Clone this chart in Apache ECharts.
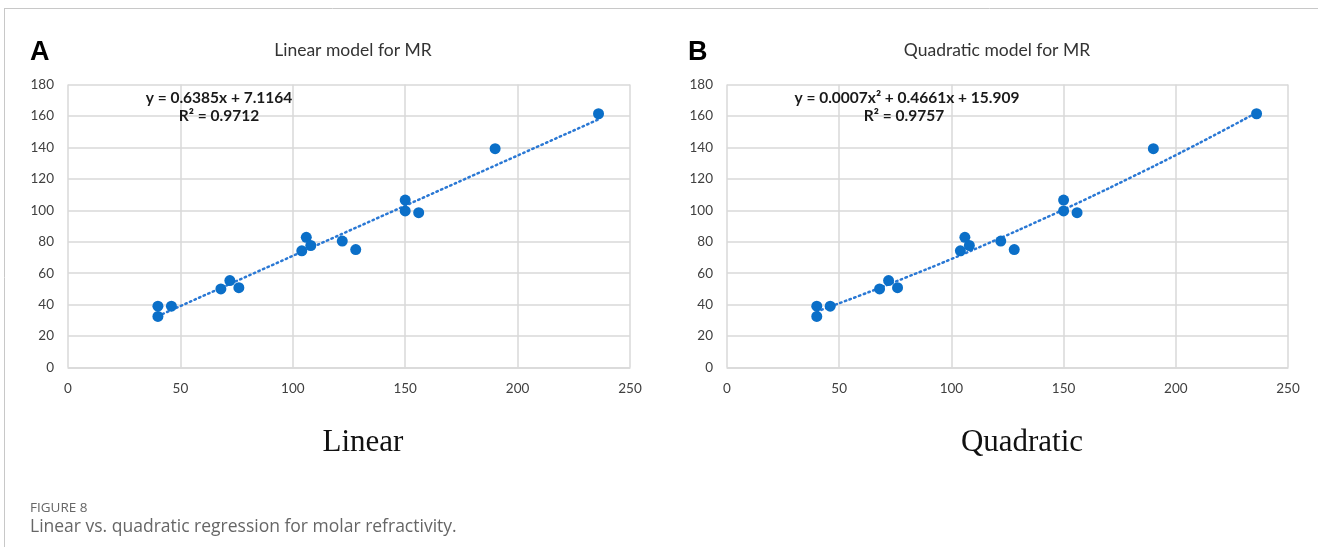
<!DOCTYPE html>
<html>
<head>
<meta charset="utf-8">
<script src="https://cdn.jsdelivr.net/npm/echarts@6/dist/echarts.min.js"></script>
<style>
html,body{margin:0;padding:0;background:#fff;}
#c{width:1318px;height:547px;}
</style>
</head>
<body>
<div id="c"></div>
<script>
// Data (x, MR)
const xValues = [40, 40, 46, 68, 72, 76, 104, 106, 108, 122, 128, 150, 150, 156, 190, 236];
const yValues = [39, 32.5, 39, 50, 55.3, 50.8, 74.2, 82.8, 77.6, 80.4, 75, 106.5, 99.6, 98.5, 139.2, 161.4];
// Trendline points
const linearTrendX = [40, 236];
const linearTrendY = [32.7, 157.8];
const quadTrendX = [40, 60, 80, 100, 120, 140, 160, 180, 200, 220, 236];
const quadTrendY = [35.6, 46.2, 57.4, 69.0, 81.2, 93.9, 107.1, 120.9, 135.1, 149.9, 162.1];
const xTicks = [0, 50, 100, 150, 200, 250];
const yTicks = [0, 20, 40, 60, 80, 100, 120, 140, 160, 180];
const panelTitles = ['Linear model for MR', 'Quadratic model for MR'];
const panelLetters = ['A', 'B'];
const equations = ['y = 0.6385x + 7.1164', 'y = 0.0007x² + 0.4661x + 15.909'];
const rSquared = ['R² = 0.9712', 'R² = 0.9757'];
const bottomLabels = ['Linear', 'Quadratic'];
const captionHead = 'FIGURE 8';
const captionText = 'Linear vs. quadratic regression for molar refractivity.';

const pts = xValues.map((x, i) => [x, yValues[i]]);
const linTrend = linearTrendX.map((x, i) => [x, linearTrendY[i]]);
const quadTrend = quadTrendX.map((x, i) => [x, quadTrendY[i]]);

const chart = echarts.init(document.getElementById('c'), null, {renderer: 'canvas'});
const gridCol = '#d9d9d9';
const labelCol = '#404040';
const font = 'Lato, "Open Sans", sans-serif';
const blue = '#0b6fc8';

function xAxis(idx) {
  return {
    type: 'value', gridIndex: idx, min: xTicks[0], max: xTicks[xTicks.length - 1], interval: 50,
    axisLine: {show: true, lineStyle: {color: gridCol, width: 1.5}},
    axisTick: {show: false},
    axisLabel: {color: labelCol, fontSize: 13.5, fontFamily: font, margin: 14},
    splitLine: {show: true, lineStyle: {color: gridCol, width: 1.5}}
  };
}
function yAxis(idx) {
  return {
    type: 'value', gridIndex: idx, min: yTicks[0], max: yTicks[yTicks.length - 1], interval: 20,
    axisLine: {show: false},
    axisTick: {show: false},
    axisLabel: {color: labelCol, fontSize: 13.5, fontFamily: font, margin: 14},
    splitLine: {show: true, lineStyle: {color: gridCol, width: 1.5}}
  };
}

const option = {
  backgroundColor: '#fff',
  animation: false,
  grid: [
    {left: 68, top: 84.5, width: 562, height: 283},
    {left: 727, top: 84.5, width: 561, height: 283}
  ],
  xAxis: [xAxis(0), xAxis(1)],
  yAxis: [yAxis(0), yAxis(1)],
  series: [
    {type: 'line', xAxisIndex: 0, yAxisIndex: 0, data: linTrend, symbol: 'none', z: 2,
     lineStyle: {color: '#2a78d4', width: 2.5, type: [1.5, 3.5], cap: 'round'}},
    {type: 'scatter', xAxisIndex: 0, yAxisIndex: 0, data: pts, symbol: 'circle', symbolSize: 11, z: 3,
     itemStyle: {color: blue, opacity: 1}},
    {type: 'line', xAxisIndex: 1, yAxisIndex: 1, data: quadTrend, symbol: 'none', smooth: true, z: 2,
     lineStyle: {color: '#2a78d4', width: 2.5, type: [1.5, 3.5], cap: 'round'}},
    {type: 'scatter', xAxisIndex: 1, yAxisIndex: 1, data: pts, symbol: 'circle', symbolSize: 11, z: 3,
     itemStyle: {color: blue, opacity: 1}}
  ],
  graphic: [
    // page frame lines
    {type: 'line', shape: {x1: 4, y1: 8.5, x2: 1318, y2: 8.5}, style: {stroke: '#c8c8c8', lineWidth: 1}},
    {type: 'line', shape: {x1: 4.5, y1: 8, x2: 4.5, y2: 547}, style: {stroke: '#c8c8c8', lineWidth: 1}},
    // panel letters
    {type: 'text', left: 30, top: 39, style: {text: panelLetters[0], font: 'bold 27px "Liberation Sans", Arial, sans-serif', fill: '#000'}},
    {type: 'text', left: 688, top: 39, style: {text: panelLetters[1], font: 'bold 27px "Liberation Sans", Arial, sans-serif', fill: '#000'}},
    // panel titles
    {type: 'text', x: 353, y: 50, style: {text: panelTitles[0], font: '17.5px ' + font, fill: '#333', align: 'center', verticalAlign: 'middle'}},
    {type: 'text', x: 997, y: 50, style: {text: panelTitles[1], font: '17.5px ' + font, fill: '#333', align: 'center', verticalAlign: 'middle'}},
    // equations
    {type: 'text', x: 219, y: 98, z: 10, style: {text: equations[0], font: 'bold 15.5px ' + font, fill: '#1a1a1a', align: 'center', verticalAlign: 'middle'}},
    {type: 'text', x: 219, y: 116, z: 10, style: {text: rSquared[0], font: 'bold 15.5px ' + font, fill: '#1a1a1a', align: 'center', verticalAlign: 'middle'}},
    {type: 'text', x: 907, y: 98, z: 10, style: {text: equations[1], font: 'bold 15.5px ' + font, fill: '#1a1a1a', align: 'center', verticalAlign: 'middle'}},
    {type: 'text', x: 904, y: 116, z: 10, style: {text: rSquared[1], font: 'bold 15.5px ' + font, fill: '#1a1a1a', align: 'center', verticalAlign: 'middle'}},
    // bottom labels
    {type: 'text', x: 363, y: 443, style: {text: bottomLabels[0], font: '31px "Liberation Serif", "Times New Roman", serif', fill: '#111', align: 'center', verticalAlign: 'middle'}},
    {type: 'text', x: 1022, y: 443, style: {text: bottomLabels[1], font: '31px "Liberation Serif", "Times New Roman", serif', fill: '#111', align: 'center', verticalAlign: 'middle'}},
    // caption
    {type: 'text', left: 30, top: 501, style: {text: captionHead, font: '13.5px "Open Sans", sans-serif', fill: '#666'}},
    {type: 'text', left: 30, top: 518, style: {text: captionText, font: '17.5px "Open Sans", sans-serif', fill: '#666'}}
  ]
};
chart.setOption(option);
</script>
</body>
</html>
